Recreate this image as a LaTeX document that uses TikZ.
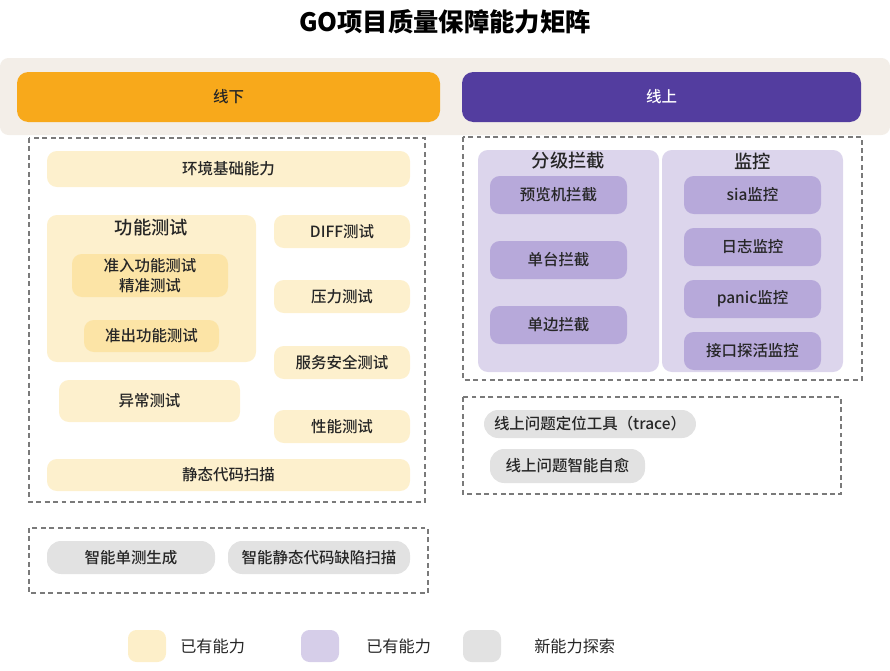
\documentclass[tikz,border=0pt]{standalone}
\usepackage{fontspec}
\setmainfont{Noto Sans CJK SC}
\newfontfamily\medium{Noto Sans CJK SC Medium}
\usetikzlibrary{positioning}

\definecolor{ink}{HTML}{262626}
\definecolor{band}{HTML}{F3EEE8}
\definecolor{offline}{HTML}{F8A91B}
\definecolor{online}{HTML}{533D9F}
\definecolor{yelbox}{HTML}{FDF0CD}
\definecolor{yeldeep}{HTML}{FCE4A6}
\definecolor{purpanel}{HTML}{DCD5EC}
\definecolor{purbox}{HTML}{B7A9DA}
\definecolor{greybox}{HTML}{E2E2E2}
\definecolor{dashgrey}{HTML}{7A7A7A}

\begin{document}
\begin{tikzpicture}[x=0.025cm, y=-0.025cm,
    sz/.style 2 args={minimum width=#1*0.025cm, minimum height=#2*0.025cm, inner sep=0pt},
    txt/.style={font=\medium\fontsize{11}{14}\selectfont, text=ink, align=center},
    yel/.style={txt, fill=yelbox, rounded corners=7pt},
    yeldeep/.style={txt, fill=yeldeep, rounded corners=7pt},
    panel/.style={fill=purpanel, rounded corners=7pt},
    pur/.style={txt, fill=purbox, rounded corners=7pt},
    grey/.style={txt, fill=greybox, rounded corners=10pt},
    zone/.style={draw=dashgrey, line width=0.9pt, dash pattern=on 3.5pt off 2.5pt},
    head/.style={font=\medium\fontsize{13}{15}\selectfont, text=ink},
    swatch/.style={sz={38}{32}, rounded corners=6pt},
    legtxt/.style={font=\fontsize{11.5}{14}\selectfont, text=ink, anchor=west}]
    \useasboundingbox (0,0) rectangle (890,671);

    \node[font=\fontsize{18}{20}\selectfont\bfseries, text=black] (title) at (445,22) {GO项目质量保障能力矩阵};

    % header band
    \fill[band, rounded corners=6pt] (0,58) rectangle (890,135);
    \node[sz={423}{50}, fill=offline, rounded corners=8pt, txt] (offl) at (228.5,97) {线下};
    \node[sz={399}{50}, fill=online, rounded corners=8pt, txt, text=white] (onl) at (661.5,97) {线上};

    % offline
    \draw[zone] (29,138) rectangle (425,502);
    \node[yel, sz={363}{36}] (env) at (228.5,169) {环境基础能力};
    \node[yel, sz={209}{147}] (func) at (151.5,288.5) {};
    \node[head] (functitle) at (151.5,228) {功能测试};
    \node[yeldeep, sz={156}{43}] (entry) at (150,275.5) {准入功能测试\\精准测试};
    \node[yeldeep, sz={135}{32}] (exit) at (151.5,336) {准出功能测试};
    \node[yel, sz={181}{42}] (abn) at (149.5,401) {异常测试};
    \node[yel, sz={136}{33}] (diff) at (342,231.5) {DIFF测试};
    \node[yel, sz={136}{33}] (press) at (342,296.5) {压力测试};
    \node[yel, sz={136}{33}] (sec) at (342,362.5) {服务安全测试};
    \node[yel, sz={136}{33}] (perf) at (342,426.5) {性能测试};
    \node[yel, sz={363}{32}] (scan) at (228.5,475) {静态代码扫描};

    \draw[zone] (29,528) rectangle (428,593);
    \node[grey, sz={168}{33}] (ut) at (131,557.5) {智能单测生成};
    \node[grey, sz={182}{33}] (defect) at (319,557.5) {智能静态代码缺陷扫描};

    % online
    \draw[zone] (463,137) rectangle (862,380);
    \node[panel, sz={181}{222}] (block) at (568.5,261) {};
    \node[head] (blocktitle) at (568.5,161) {分级拦截};
    \node[pur, sz={137}{38}] (pre) at (558.5,195) {预览机拦截};
    \node[pur, sz={137}{38}] (single) at (558.5,260) {单台拦截};
    \node[pur, sz={137}{38}] (side) at (558.5,325) {单边拦截};
    \node[panel, sz={181}{222}] (mon) at (752.5,261) {};
    \node[head] (montitle) at (752.5,161) {监控};
    \node[pur, sz={137}{38}] (sia) at (752.5,195) {sia监控};
    \node[pur, sz={137}{38}] (log) at (752.5,247) {日志监控};
    \node[pur, sz={137}{38}] (panic) at (752.5,299) {panic监控};
    \node[pur, sz={137}{38}] (probe) at (752.5,351) {接口探活监控};

    \draw[zone] (463,397) rectangle (841,494);
    \node[grey, sz={212}{28}] (trace) at (590,424) {线上问题定位工具（trace）};
    \node[grey, sz={155}{34}] (heal) at (567.5,466) {线上问题智能自愈};

    % legend
    \node[swatch, fill=yelbox!90!yeldeep] (lg1) at (147,646) {};
    \node[legtxt, right=0.225cm of lg1] (lt1) {已有能力};
    \node[swatch, fill=purpanel!85!purbox] (lg2) at (320,646) {};
    \node[legtxt, right=0.55cm of lg2] (lt2) {已有能力};
    \node[swatch, fill=greybox] (lg3) at (482,646) {};
    \node[legtxt, right=0.7cm of lg3] (lt3) {新能力探索};
\end{tikzpicture}
\end{document}
